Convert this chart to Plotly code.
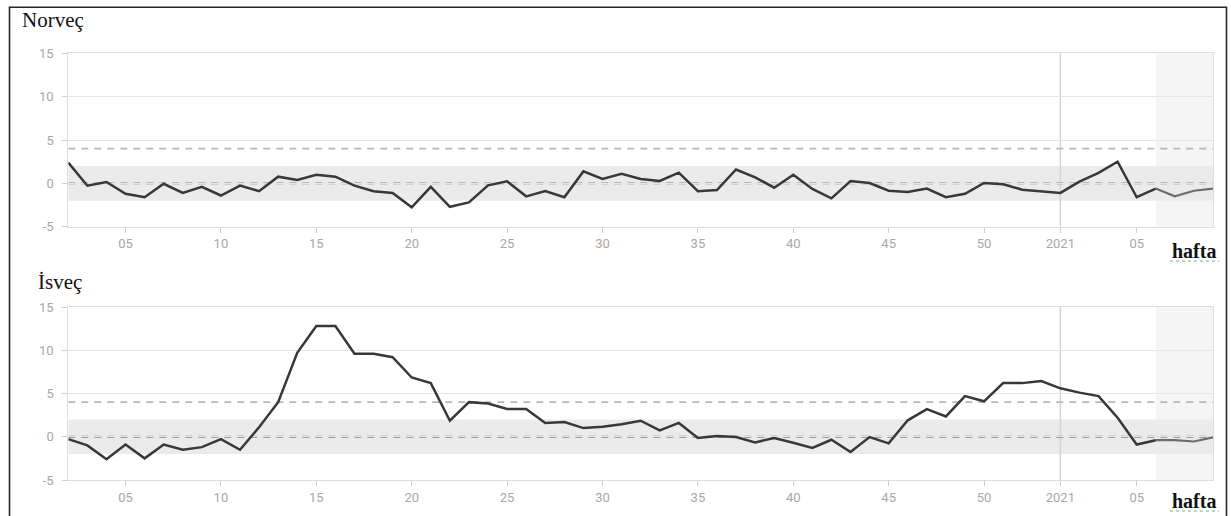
import plotly.graph_objects as go

# ISO weeks shown on the x axis: 2020-W02 .. 2020-W53, 2021-W01 .. 2021-W09
weeks_2020 = list(range(2, 54))
weeks_2021 = list(range(1, 10))
week_labels = [f"2020-W{w:02d}" for w in weeks_2020] + [f"2021-W{w:02d}" for w in weeks_2021]

# Excess mortality z-scores per week
norway = [2.4, -0.27, 0.15, -1.2, -1.6, -0.05, -1.1, -0.4, -1.4, -0.25, -0.9, 0.77, 0.4, 1.0,
          0.77, -0.27, -0.9, -1.1, -2.77, -0.4, -2.7, -2.2, -0.23, 0.23, -1.5, -0.9, -1.6, 1.38,
          0.5, 1.1, 0.5, 0.27, 1.23, -0.9, -0.77, 1.6, 0.7, -0.5, 1.0, -0.65, -1.73, 0.27, 0.04,
          -0.85, -1.0, -0.6, -1.6, -1.2, 0.04, -0.1, -0.73, -0.9,
          -1.1, 0.2, 1.2, 2.5, -1.6, -0.6, -1.5, -0.85, -0.6]
sweden = [-0.27, -1.0, -2.6, -0.9, -2.5, -0.9, -1.5, -1.2, -0.27, -1.5, 1.1, 4.0, 9.7, 12.8,
          12.8, 9.6, 9.6, 9.2, 6.85, 6.2, 1.85, 4.0, 3.85, 3.2, 3.2, 1.6, 1.7, 1.0, 1.15, 1.45,
          1.85, 0.73, 1.6, -0.15, 0.08, -0.04, -0.65, -0.15, -0.7, -1.3, -0.35, -1.77, -0.04,
          -0.77, 1.9, 3.2, 2.35, 4.7, 4.1, 6.2, 6.2, 6.45,
          5.6, 5.1, 4.7, 2.2, -0.9, -0.4, -0.4, -0.55, -0.08]

panels = [("Norveç", norway), ("İsveç", sweden)]

tick_weeks = ["2020-W05", "2020-W10", "2020-W15", "2020-W20", "2020-W25", "2020-W30",
              "2020-W35", "2020-W40", "2020-W45", "2020-W50", "2021-W01", "2021-W05"]
tick_text = ["05", "10", "15", "20", "25", "30", "35", "40", "45", "50", "2021", "05"]
y_ticks = [-5, 0, 5, 10, 15]
y_text = ["-5", "0", "5", "10", "15"]

normal_band = (-2, 2)
upper_threshold = 4
provisional_from = "2021-W06"

W, H = 1231, 516


def px(x):
    return x / W


def py(y):
    return 1 - y / H


# plot areas in pixels: (left, top, right, bottom)
areas = [(68.3, 53.3, 1213, 226.7), (68.3, 307, 1213, 480)]
title_pos = [(20, 20), (36, 282)]
unit_pos = [(1194, 251), (1194, 501)]

fig = go.Figure()
shapes = []
annotations = []

last = len(week_labels) - 1
split = week_labels.index(provisional_from)
year_start = week_labels.index("2021-W01")

axis_font = dict(family="Roboto", size=13, color="#a8a8a8")
serif = "Liberation Serif"

for i, (name, values) in enumerate(panels):
    n = "" if i == 0 else str(i + 1)
    xa, ya = "x" + n, "y" + n
    l, t, r, b = areas[i]

    fig.add_trace(go.Scatter(x=week_labels[:split + 1], y=values[:split + 1], mode="lines",
                             line=dict(color="#383838", width=2.5), xaxis=xa, yaxis=ya,
                             showlegend=False, hoverinfo="x+y"))
    fig.add_trace(go.Scatter(x=week_labels[split:], y=values[split:], mode="lines",
                             line=dict(color="#6c6c6c", width=2.2), xaxis=xa, yaxis=ya,
                             showlegend=False, hoverinfo="x+y"))

    fig.layout["xaxis" + n] = dict(
        domain=[px(l), px(r)], anchor=ya, type="category",
        categoryorder="array", categoryarray=week_labels,
        range=[0, last], tickvals=tick_weeks, ticktext=tick_text,
        ticks="outside", ticklen=5, tickcolor="#cfcfcf", tickwidth=1,
        showgrid=False, zeroline=False, showline=True, linecolor="#dedede",
        linewidth=1, mirror=True, tickfont=axis_font, fixedrange=True,
        automargin=False,
    )
    fig.layout["yaxis" + n] = dict(
        domain=[py(b), py(t)], anchor=xa, range=[-5, 15],
        tickvals=y_ticks, ticktext=y_text,
        ticks="outside", ticklen=5, tickcolor="#cfcfcf", tickwidth=1,
        showgrid=True, gridcolor="#e6e6e6", gridwidth=1, zeroline=False,
        showline=True, linecolor="#dedede", linewidth=1, mirror=True,
        tickfont=axis_font, ticklabelstandoff=6, fixedrange=True,
        automargin=False,
    )

    xref, yref = xa, ya
    # provisional weeks region
    shapes.append(dict(type="rect", xref=xref, yref=yref, x0=split, x1=last, y0=-5, y1=15,
                       fillcolor="#f5f5f5", line=dict(width=0), layer="below"))
    # normal range band
    shapes.append(dict(type="rect", xref=xref, yref=yref, x0=0, x1=last,
                       y0=normal_band[0], y1=normal_band[1],
                       fillcolor="#ebebeb", line=dict(width=0), layer="below"))
    # start of 2021
    shapes.append(dict(type="line", xref=xref, yref=yref, x0=year_start, x1=year_start,
                       y0=-5, y1=15, line=dict(color="#d4d4d4", width=1.5), layer="below"))
    # baseline and threshold
    shapes.append(dict(type="line", xref=xref, yref=yref, x0=0, x1=last, y0=0, y1=0,
                       line=dict(color="#848484", width=1.8, dash="7px,6px"), layer="below"))
    shapes.append(dict(type="line", xref=xref, yref=yref, x0=0, x1=last,
                       y0=upper_threshold, y1=upper_threshold,
                       line=dict(color="#b8b8b8", width=1.6, dash="7px,6px"), layer="below"))

    tx, ty = title_pos[i]
    annotations.append(dict(text=name, xref="paper", yref="paper", x=px(tx), y=py(ty),
                            xanchor="left", yanchor="middle", showarrow=False,
                            font=dict(family=serif, size=21, color="#111111")))
    ux, uy = unit_pos[i]
    annotations.append(dict(text="<b>hafta</b>", xref="paper", yref="paper", x=px(ux), y=py(uy),
                            xanchor="center", yanchor="middle", showarrow=False,
                            font=dict(family=serif, size=20, color="#111111")))
    # dotted underline under the unit label
    shapes.append(dict(type="line", xref="paper", yref="paper", x0=px(ux - 24), x1=px(ux + 25),
                       y0=py(uy + 10), y1=py(uy + 10),
                       line=dict(color="#6abf69", width=1, dash="dot")))

# outer frame
shapes.append(dict(type="path", xref="paper", yref="paper",
                   path=f"M {px(9.5)} {py(516)} L {px(9.5)} {py(7.3)} "
                        f"L {px(1226.5)} {py(7.3)} L {px(1226.5)} {py(516)}",
                   line=dict(color="#262626", width=1.6)))

fig.update_layout(
    width=W, height=H, margin=dict(l=0, r=0, t=0, b=0, pad=0),
    paper_bgcolor="white", plot_bgcolor="white",
    shapes=shapes, annotations=annotations, showlegend=False,
)

fig.write_html("out.html")
